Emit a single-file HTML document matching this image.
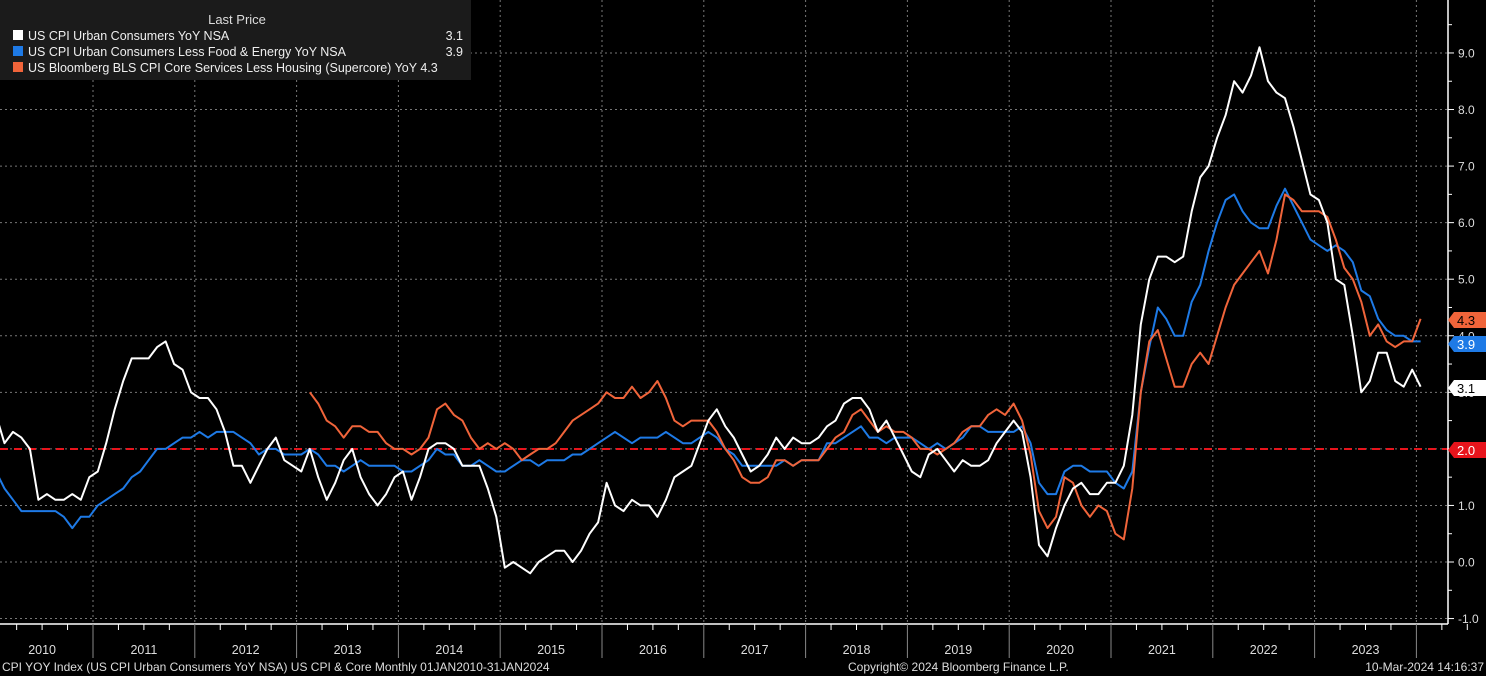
<!DOCTYPE html>
<html><head><meta charset="utf-8"><style>
html,body{margin:0;padding:0;background:#000;width:1486px;height:676px;overflow:hidden}
svg text{font-family:"Liberation Sans",sans-serif}
</style></head><body>
<svg id="s" width="1486" height="676" xmlns="http://www.w3.org/2000/svg">
<rect width="1486" height="676" fill="#000"/>
<g id="grid"></g>
<line x1="0" y1="449" x2="1448" y2="449" stroke="#e8141c" stroke-width="2" stroke-dasharray="8,6"/>
<g id="series"></g>
<line x1="1448" y1="0" x2="1448" y2="624" stroke="#fff" stroke-width="1.5"/>
<line x1="0" y1="624" x2="1448" y2="624" stroke="#fff" stroke-width="1.5"/>
<g id="axis"></g>
<rect x="0" y="0" width="471" height="80" fill="#1b1b1b"/>
<text x="237" y="24" fill="#ddd" font-size="13" text-anchor="middle">Last Price</text>
<rect x="13" y="30" width="10" height="10" fill="#fff"/>
<rect x="13" y="46" width="10" height="10" fill="#1e7ae6"/>
<rect x="13" y="62" width="10" height="10" fill="#f0643a"/>
<g font-size="12.5" fill="#eee">
<text x="28" y="40">US CPI Urban Consumers YoY NSA</text><text x="463" y="40" text-anchor="end">3.1</text>
<text x="28" y="56">US CPI Urban Consumers Less Food &amp; Energy YoY NSA</text><text x="463" y="56" text-anchor="end">3.9</text>
<text x="28" y="72">US Bloomberg BLS CPI Core Services Less Housing (Supercore) YoY 4.3</text>
</g>
<g font-size="12" fill="#ddd">
<text x="2" y="671">CPI YOY Index (US CPI Urban Consumers YoY NSA) US CPI &amp; Core  Monthly 01JAN2010-31JAN2024</text>
<text x="848" y="671">Copyright© 2024 Bloomberg Finance L.P.</text>
<text x="1484" y="671" text-anchor="end">10-Mar-2024 14:16:37</text>
</g>
</svg>
<script>
const NS="http://www.w3.org/2000/svg";
function el(t,a,p){const e=document.createElementNS(NS,t);for(const k in a)e.setAttribute(k,a[k]);document.getElementById(p).appendChild(e);return e;}
const Y=v=>562-v*56.56, X=i=>-4+i*8.48;
// grid
for(let v=-1;v<=10;v++){el('line',{x1:0,x2:1448,y1:Y(v),y2:Y(v),stroke:'#777','stroke-dasharray':'2,3','stroke-width':1},'grid');}
for(let k=1;k<=14;k++){const x=-8.8+k*101.8;el('line',{x1:x,x2:x,y1:0,y2:624,stroke:'#777','stroke-dasharray':'2,3','stroke-width':1},'grid');}
// axis labels
for(let v=-1;v<=9;v++){const y=Y(v);el('line',{x1:1448,x2:1454,y1:y,y2:y,stroke:'#fff'},'axis');
 const t=el('text',{x:1458,y:y+4.5,fill:'#ddd','font-size':12},'axis');t.textContent=v.toFixed(1);
 el('line',{x1:1448,x2:1452,y1:Y(v+0.5),y2:Y(v+0.5),stroke:'#fff'},'axis');}
for(let k=0;k<=14;k++){const x0=-8.8+k*101.8;
 if(k>0)el('line',{x1:x0,x2:x0,y1:624,y2:658,stroke:'#888'},'axis');
 for(let q=1;q<4;q++){const x=x0+q*25.45;el('line',{x1:x,x2:x,y1:624,y2:630,stroke:'#fff'},'axis');}
 if(k<14){const t=el('text',{x:x0+50.9,y:654,fill:'#ddd','font-size':12.5,'text-anchor':'middle'},'axis');t.textContent=2010+k;}}
const head=[2.6,2.1,2.3,2.2,2.0,1.1,1.2,1.1,1.1,1.2,1.1,1.5,1.6,2.1,2.7,3.2,3.6,3.6,3.6,3.8,3.9,3.5,3.4,3.0,2.9,2.9,2.7,2.3,1.7,1.7,1.4,1.7,2.0,2.2,1.8,1.7,1.6,2.0,1.5,1.1,1.4,1.8,2.0,1.5,1.2,1.0,1.2,1.5,1.6,1.1,1.5,2.0,2.1,2.1,2.0,1.7,1.7,1.7,1.3,0.8,-0.1,0.0,-0.1,-0.2,0.0,0.1,0.2,0.2,0.0,0.2,0.5,0.7,1.4,1.0,0.9,1.1,1.0,1.0,0.8,1.1,1.5,1.6,1.7,2.1,2.5,2.7,2.4,2.2,1.9,1.6,1.7,1.9,2.2,2.0,2.2,2.1,2.1,2.2,2.4,2.5,2.8,2.9,2.9,2.7,2.3,2.5,2.2,1.9,1.6,1.5,1.9,2.0,1.8,1.6,1.8,1.7,1.7,1.8,2.1,2.3,2.5,2.3,1.5,0.3,0.1,0.6,1.0,1.3,1.4,1.2,1.2,1.4,1.4,1.7,2.6,4.2,5.0,5.4,5.4,5.3,5.4,6.2,6.8,7.0,7.5,7.9,8.5,8.3,8.6,9.1,8.5,8.3,8.2,7.7,7.1,6.5,6.4,6.0,5.0,4.9,4.0,3.0,3.2,3.7,3.7,3.2,3.1,3.4,3.1];
const core=[1.6,1.3,1.1,0.9,0.9,0.9,0.9,0.9,0.8,0.6,0.8,0.8,1.0,1.1,1.2,1.3,1.5,1.6,1.8,2.0,2.0,2.1,2.2,2.2,2.3,2.2,2.3,2.3,2.3,2.2,2.1,1.9,2.0,2.0,1.9,1.9,1.9,2.0,1.9,1.7,1.7,1.6,1.7,1.8,1.7,1.7,1.7,1.7,1.6,1.6,1.7,1.8,2.0,1.9,1.9,1.7,1.7,1.8,1.7,1.6,1.6,1.7,1.8,1.8,1.7,1.8,1.8,1.8,1.9,1.9,2.0,2.1,2.2,2.3,2.2,2.1,2.2,2.2,2.2,2.3,2.2,2.1,2.1,2.2,2.3,2.2,2.0,1.9,1.7,1.7,1.7,1.7,1.7,1.8,1.7,1.8,1.8,1.8,2.1,2.1,2.2,2.3,2.4,2.2,2.2,2.1,2.2,2.2,2.2,2.1,2.0,2.1,2.0,2.1,2.2,2.4,2.4,2.3,2.3,2.3,2.3,2.4,2.1,1.4,1.2,1.2,1.6,1.7,1.7,1.6,1.6,1.6,1.4,1.3,1.6,3.0,3.8,4.5,4.3,4.0,4.0,4.6,4.9,5.5,6.0,6.4,6.5,6.2,6.0,5.9,5.9,6.3,6.6,6.3,6.0,5.7,5.6,5.5,5.6,5.5,5.3,4.8,4.7,4.3,4.1,4.0,4.0,3.9,3.9];
const sc=[3.0,2.8,2.5,2.4,2.2,2.4,2.4,2.3,2.3,2.1,2.0,2.0,1.9,2.0,2.2,2.7,2.8,2.6,2.5,2.2,2.0,2.1,2.0,2.1,2.0,1.8,1.9,2.0,2.0,2.1,2.3,2.5,2.6,2.7,2.8,3.0,2.9,2.9,3.1,2.9,3.0,3.2,2.9,2.5,2.4,2.5,2.5,2.5,2.3,2.0,1.8,1.5,1.4,1.4,1.5,1.8,1.8,1.7,1.8,1.8,1.8,2.0,2.2,2.3,2.6,2.7,2.5,2.3,2.4,2.3,2.3,2.2,2.0,2.0,1.9,2.0,2.1,2.3,2.4,2.4,2.6,2.7,2.6,2.8,2.5,1.9,0.9,0.6,0.8,1.5,1.4,1.0,0.8,1.0,0.9,0.5,0.4,1.3,3.0,3.9,4.1,3.6,3.1,3.1,3.5,3.7,3.5,4.0,4.5,4.9,5.1,5.3,5.5,5.1,5.7,6.5,6.4,6.2,6.2,6.2,6.1,5.7,5.2,5.0,4.6,4.0,4.2,3.9,3.8,3.9,3.9,4.3];
function line(d,off,c){el('polyline',{points:d.map((v,i)=>X(i+off).toFixed(1)+','+Y(v).toFixed(1)).join(' '),fill:'none',stroke:c,'stroke-width':2,'stroke-linejoin':'round'},'series');}
line(core,0,'#1e7ae6');line(sc,37,'#f0643a');line(head,0,'#ffffff');
function tag(v,bg,fg,yc){const y=yc;el('polygon',{points:`1448,${y} 1454,${y-8} 1486,${y-8} 1486,${y+8} 1454,${y+8}`,fill:bg},'axis');
 const t=el('text',{x:1457,y:y+5,fill:fg,'font-size':13},'axis');t.textContent=v;}
tag('4.3','#f0643a','#000',320);tag('3.9','#1e7ae6','#fff',344);tag('3.1','#fff','#000',388);tag('2.0','#e8141c','#fff',450);
</script>
</body></html>
